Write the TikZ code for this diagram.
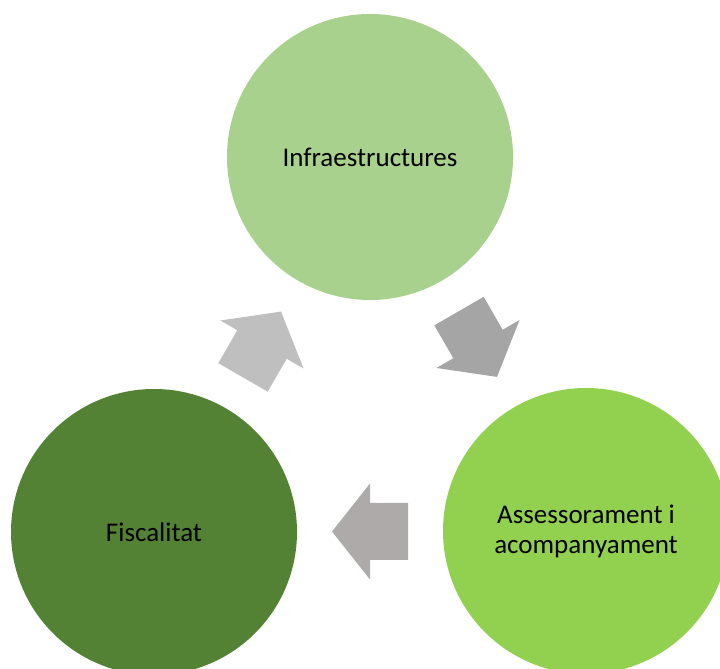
\documentclass[tikz,border=0pt]{standalone}
\usepackage{fontspec}
\setmainfont{Carlito}
\usetikzlibrary{calc}

\definecolor{infragreen}{HTML}{A9D18E}
\definecolor{assesgreen}{HTML}{92D050}
\definecolor{fiscgreen}{HTML}{548235}
\definecolor{greylight}{HTML}{BFBFBF}
\definecolor{greymid}{HTML}{AEAAAA}
\definecolor{greydark}{HTML}{A5A5A5}

\begin{document}
\begin{tikzpicture}[x=1pt,y=1pt,
    cercle/.style={circle, minimum size=286pt, inner sep=0pt, align=center,
      font=\fontsize{27}{30}\selectfont}]
\useasboundingbox (0,0) rectangle (720,669);

\node[cercle,fill=infragreen] (infra) at (370,512){Infraestructures};
\node[cercle,fill=assesgreen] (assess) at (586,138){Assessorament i\\acompanyament};
\node[cercle,fill=fiscgreen] (fisc) at (154,137){Fiscalitat};

\foreach \from/\to/\ang/\col in {fisc/infra/60/greylight, infra/assess/-60/greydark, assess/fisc/180/greymid}
  \fill[\col, shift={($(\from)!0.5!(\to)$)}, rotate=\ang]
    (-38,-28.5) -- (0,-28.5) -- (0,-48) -- (38,0) -- (0,48) -- (0,28.5) -- (-38,28.5) -- cycle;
\end{tikzpicture}
\end{document}
